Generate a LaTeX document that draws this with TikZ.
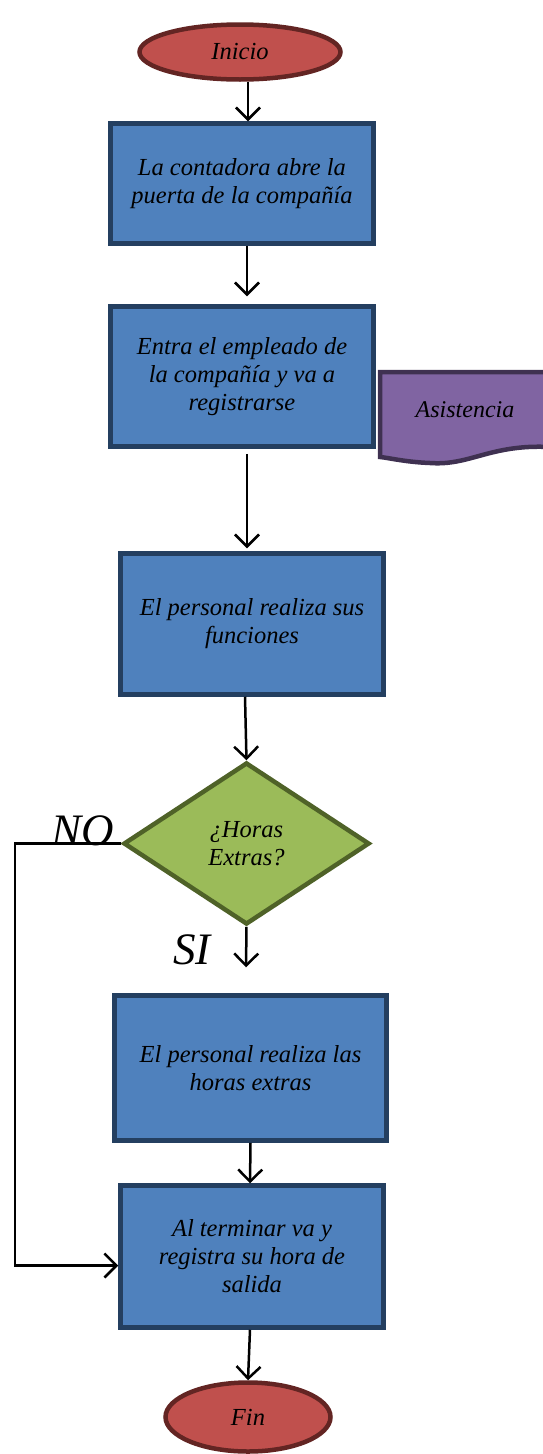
\documentclass[tikz,border=0pt]{standalone}
\usepackage{fontspec}
\setmainfont{Liberation Serif}
\usetikzlibrary{shapes.geometric,arrows.meta}
\definecolor{redfill}{HTML}{C0504D}
\definecolor{reddraw}{HTML}{632523}
\definecolor{bluefill}{HTML}{4F81BD}
\definecolor{bluedraw}{HTML}{243F60}
\definecolor{purplefill}{HTML}{8064A2}
\definecolor{purpledraw}{HTML}{3F3151}
\definecolor{greenfill}{HTML}{9BBB59}
\definecolor{greendraw}{HTML}{4F6228}
\tikzset{
  txt/.style={font=\fontsize{24.5}{28}\selectfont\itshape, align=center, text=black},
  terminal/.style={ellipse, draw=reddraw, fill=redfill, line width=4.5pt, inner sep=0pt, txt},
  process/.style={rectangle, draw=bluedraw, fill=bluefill, line width=4.5pt, inner sep=0pt, txt},
  decision/.style={diamond, draw=greendraw, fill=greenfill, line width=4.5pt, inner sep=0pt, txt},
  arr/.style={line width=2.5pt, -{Straight Barb[length=12pt,width=24pt,line width=2.5pt]}},
  branch/.style={font=\fontsize{45}{45}\selectfont\itshape, inner sep=0pt}
}
\begin{document}
\begin{tikzpicture}[x=1pt,y=-1pt]
\useasboundingbox (0,0) rectangle (542,1454);

% nodes of the flow
\node[terminal, minimum width=201pt, minimum height=55pt] (ini) at (240,52) {Inicio};
\node[process, minimum width=263pt, minimum height=120pt] (b1) at (242,183.5) {La contadora abre la\\puerta de la compañía};
\node[process, minimum width=263pt, minimum height=140pt] (b2) at (242,376.5) {Entra el empleado de\\la compañía y va a\\registrarse};

% attendance record (document shape)
\draw[draw=purpledraw, fill=purplefill, line width=4.5pt]
  (380,372) -- (550,372) -- (550,447)
  .. controls (490,444) and (470,466) .. (430,463)
  .. controls (405,462) and (390,458) .. (380,457) -- cycle;
\node[txt, font=\fontsize{24}{28}\selectfont\itshape] (asis) at (465,410) {Asistencia};

\node[process, minimum width=263pt, minimum height=141pt] (b3) at (252,624) {El personal realiza sus\\funciones};
\node[decision, minimum width=246pt, minimum height=162pt] (dec) at (246.5,843.5) {¿Horas\\Extras?};
\node[process, minimum width=272pt, minimum height=145pt] (b5) at (250.5,1068) {El personal realiza las\\horas extras};
\node[process, minimum width=263pt, minimum height=142pt] (b6) at (252,1256.5) {Al terminar va y\\registra su hora de\\salida};
\node[terminal, minimum width=165pt, minimum height=69pt] (fin) at (248,1417) {Fin};

% branch labels
\node[branch] (no) at (83,831) {NO};
\node[branch] (si) at (192,950) {SI};

% connectors
\draw[arr] ([xshift=8pt]ini.south) -- ([xshift=6pt]b1.north);
\draw[arr] ([xshift=5pt]b1.south) -- ([xshift=5pt,yshift=8pt]b2.north);
\draw[arr] ([xshift=5pt,yshift=-5pt]b2.south) -- ([xshift=-5pt,yshift=3pt]b3.north);
\draw[arr] ([xshift=-7pt]b3.south) -- (dec.north);
\draw[arr] (dec.south) -- ([xshift=-4.5pt,yshift=26pt]b5.north);
\draw[arr] (b5.south) -- ([xshift=-2pt]b6.north);
\draw[arr] ([xshift=-2pt]b6.south) -- (fin.north);
\coordinate (loop) at (15,843.5);
\draw[arr] (dec.west) -- (loop) |- ([yshift=-9pt]b6.west);
\end{tikzpicture}
\end{document}
